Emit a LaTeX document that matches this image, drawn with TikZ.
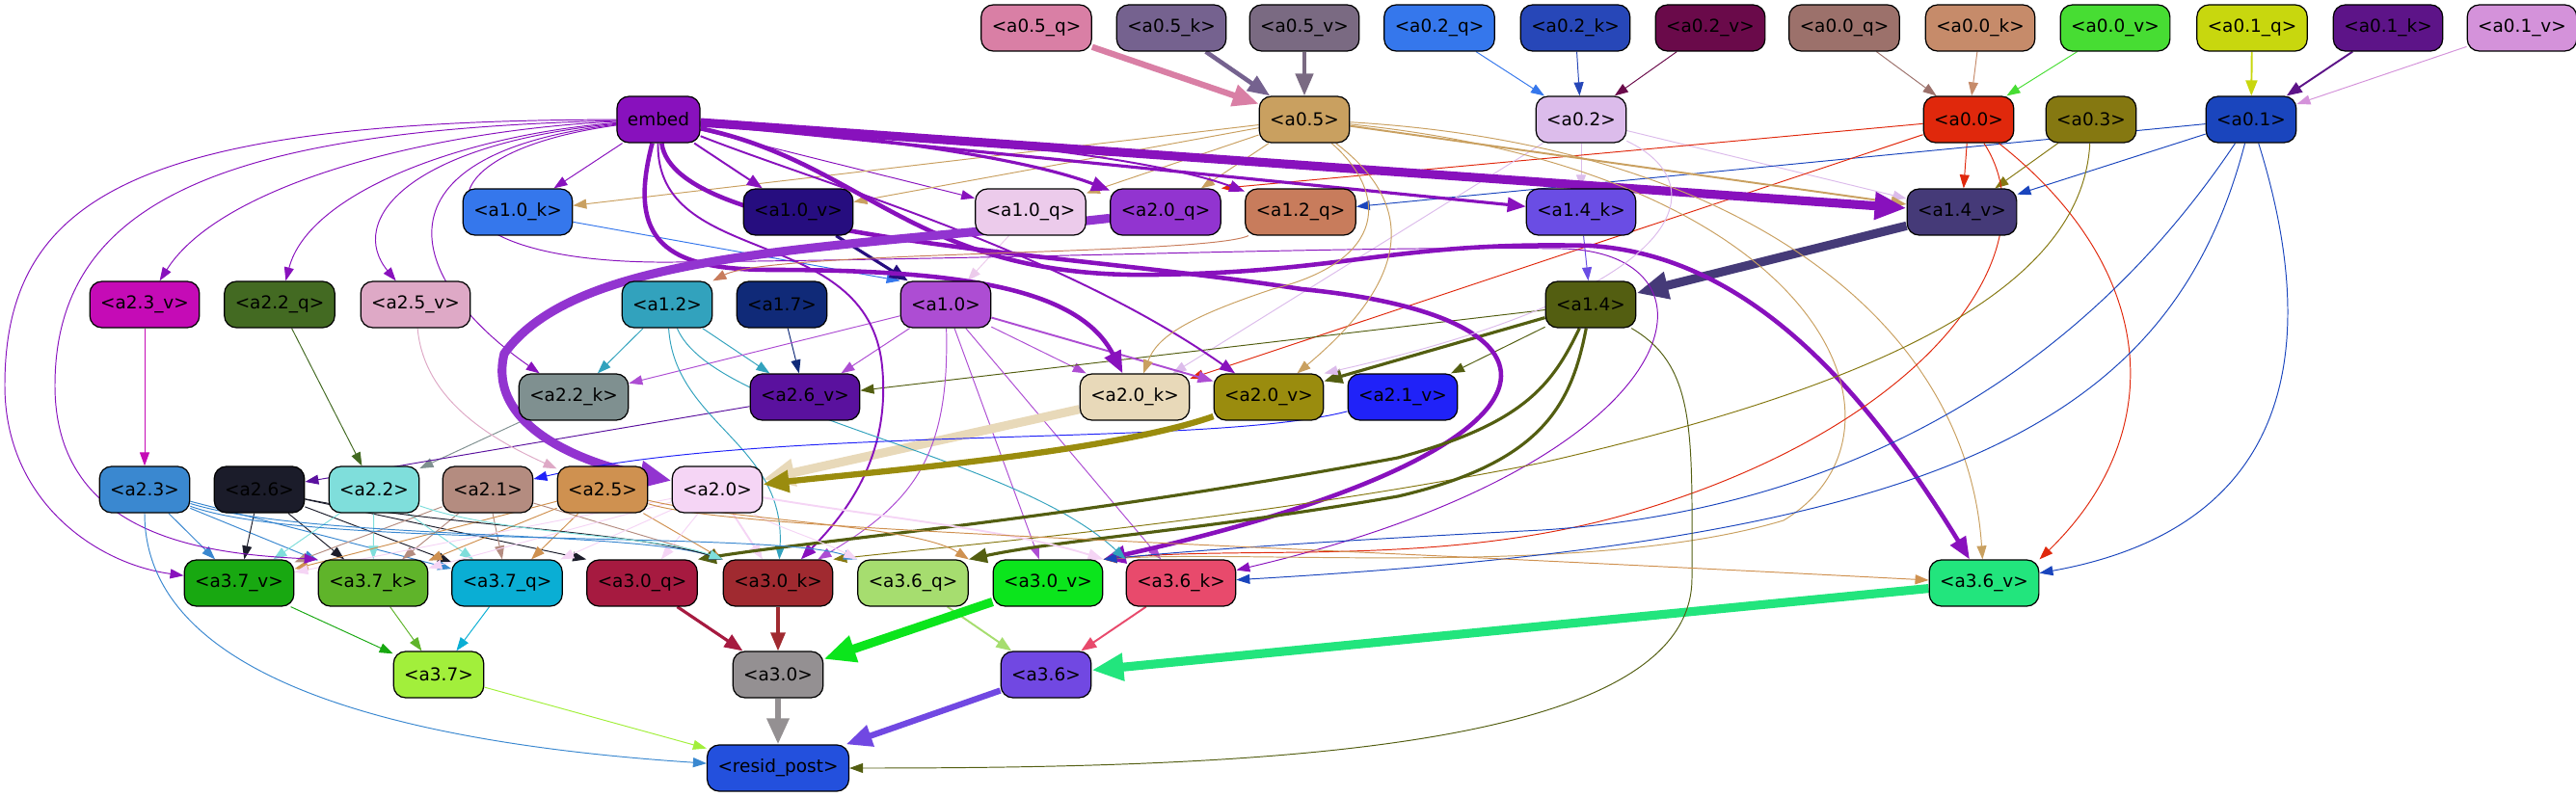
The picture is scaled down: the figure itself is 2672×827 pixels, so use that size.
\documentclass[tikz,border=0pt]{standalone}
\usepackage{fontspec}
\newfontfamily\gvfont{DejaVu Sans}
\usetikzlibrary{arrows.meta, backgrounds}

% node colours
\definecolor{ca05q}{HTML}{D97FA5}\definecolor{ca05k}{HTML}{75628F}\definecolor{ca05v}{HTML}{7A6A82}
\definecolor{ca02q}{HTML}{3577EC}\definecolor{ca02k}{HTML}{2747B8}\definecolor{ca02v}{HTML}{6A0A4A}
\definecolor{ca00q}{HTML}{9C716B}\definecolor{ca00k}{HTML}{C68B6A}\definecolor{ca00v}{HTML}{47DD33}
\definecolor{ca01q}{HTML}{C8D70E}\definecolor{ca01k}{HTML}{5D1488}\definecolor{ca01v}{HTML}{D492DA}
\definecolor{cembed}{HTML}{8811BD}\definecolor{ca05}{HTML}{C9A060}\definecolor{ca02}{HTML}{DCBCEB}
\definecolor{ca00}{HTML}{E0280C}\definecolor{ca03}{HTML}{857811}\definecolor{ca01}{HTML}{1A45BD}
\definecolor{ca10k}{HTML}{3577EC}\definecolor{ca10v}{HTML}{260D7F}\definecolor{ca10q}{HTML}{ECCBEB}
\definecolor{ca20q}{HTML}{9234D0}\definecolor{ca12q}{HTML}{C87C5C}\definecolor{ca14k}{HTML}{6A4DE4}
\definecolor{ca14v}{HTML}{453A78}
\definecolor{ca23v}{HTML}{C50BB6}\definecolor{ca22q}{HTML}{436A22}\definecolor{ca25v}{HTML}{DEA9C6}
\definecolor{ca12}{HTML}{32A2BD}\definecolor{ca17}{HTML}{102A78}\definecolor{ca10}{HTML}{AD4DD3}
\definecolor{ca14}{HTML}{535E11}
\definecolor{ca22k}{HTML}{7F9090}\definecolor{ca26v}{HTML}{5A119E}\definecolor{ca20k}{HTML}{E8D9B9}
\definecolor{ca20v}{HTML}{9A8C0E}\definecolor{ca21v}{HTML}{2022F8}
\definecolor{ca23}{HTML}{3A88D0}\definecolor{ca26}{HTML}{1B1C2A}\definecolor{ca22}{HTML}{7FDEDB}
\definecolor{ca21}{HTML}{B48C80}\definecolor{ca25}{HTML}{CF9150}\definecolor{ca20}{HTML}{F5D5F5}
\definecolor{ca37v}{HTML}{18A811}\definecolor{ca37k}{HTML}{5FB42A}\definecolor{ca37q}{HTML}{0AAED4}
\definecolor{ca30q}{HTML}{A61A40}\definecolor{ca30k}{HTML}{A02A30}\definecolor{ca36q}{HTML}{A6DD6F}
\definecolor{ca30v}{HTML}{0BE51C}\definecolor{ca36k}{HTML}{E84A6C}\definecolor{ca36v}{HTML}{22E57D}
\definecolor{ca37}{HTML}{A2EF3B}\definecolor{ca30}{HTML}{949092}\definecolor{ca36}{HTML}{7148E2}
\definecolor{cresid}{HTML}{2350DD}

\begin{document}
\begin{tikzpicture}[x=0.02cm, y=-0.02cm,
  hd/.style={draw=black, line width=0.7pt, rounded corners=0.25cm,
             minimum height=0.96cm, inner xsep=0.22cm, inner ysep=0pt,
             font=\gvfont\fontsize{10.5}{12}\selectfont},
  w1/.style={line width=0.55pt, -{Triangle[length=0.28cm, width=0.2cm]}},
  w2/.style={line width=1.1pt, -{Triangle[length=0.32cm, width=0.24cm]}},
  w3/.style={line width=1.8pt, -{Triangle[length=0.38cm, width=0.3cm]}},
  w4/.style={line width=2.6pt, -{Triangle[length=0.46cm, width=0.36cm]}},
  w5/.style={line width=3.6pt, -{Triangle[length=0.54cm, width=0.44cm]}},
  w6/.style={line width=5.2pt, -{Triangle[length=0.66cm, width=0.54cm]}}]
\useasboundingbox (0,0) rectangle (2672,827);

% inputs
\node[hd, fill=ca05q] (a05q) at (1075,29) {<a0.5\_q>};
\node[hd, fill=ca05k] (a05k) at (1215,29) {<a0.5\_k>};
\node[hd, fill=ca05v] (a05v) at (1353,29) {<a0.5\_v>};
\node[hd, fill=ca02q] (a02q) at (1493,29) {<a0.2\_q>};
\node[hd, fill=ca02k] (a02k) at (1634,29) {<a0.2\_k>};
\node[hd, fill=ca02v] (a02v) at (1774,29) {<a0.2\_v>};
\node[hd, fill=ca00q] (a00q) at (1913,29) {<a0.0\_q>};
\node[hd, fill=ca00k] (a00k) at (2054,29) {<a0.0\_k>};
\node[hd, fill=ca00v] (a00v) at (2194,29) {<a0.0\_v>};
\node[hd, fill=ca01q] (a01q) at (2336,29) {<a0.1\_q>};
\node[hd, fill=ca01k] (a01k) at (2477,29) {<a0.1\_k>};
\node[hd, fill=ca01v] (a01v) at (2616,29) {<a0.1\_v>};
% layer 0
\node[hd, fill=cembed] (embed) at (683,124) {embed};
\node[hd, fill=ca05] (a05) at (1353,124) {<a0.5>};
\node[hd, fill=ca02] (a02) at (1640,124) {<a0.2>};
\node[hd, fill=ca00] (a00) at (2042,124) {<a0.0>};
\node[hd, fill=ca03] (a03) at (2169,124) {<a0.3>};
\node[hd, fill=ca01] (a01) at (2335,124) {<a0.1>};
% layer 1 inputs
\node[hd, fill=ca10k] (a10k) at (537,220) {<a1.0\_k>};
\node[hd, fill=ca10v] (a10v) at (828,220) {<a1.0\_v>};
\node[hd, fill=ca10q] (a10q) at (1069,220) {<a1.0\_q>};
\node[hd, fill=ca20q] (a20q) at (1209,220) {<a2.0\_q>};
\node[hd, fill=ca12q] (a12q) at (1349,220) {<a1.2\_q>};
\node[hd, fill=ca14k] (a14k) at (1640,220) {<a1.4\_k>};
\node[hd, fill=ca14v] (a14v) at (2035,220) {<a1.4\_v>};
% layer 1
\node[hd, fill=ca23v] (a23v) at (150,316) {<a2.3\_v>};
\node[hd, fill=ca22q] (a22q) at (290,316) {<a2.2\_q>};
\node[hd, fill=ca25v] (a25v) at (431,316) {<a2.5\_v>};
\node[hd, fill=ca12] (a12) at (692,316) {<a1.2>};
\node[hd, fill=ca17] (a17) at (811,316) {<a1.7>};
\node[hd, fill=ca10] (a10) at (981,316) {<a1.0>};
\node[hd, fill=ca14] (a14) at (1650,316) {<a1.4>};
% layer 2 inputs
\node[hd, fill=ca22k] (a22k) at (595,412) {<a2.2\_k>};
\node[hd, fill=ca26v] (a26v) at (835,412) {<a2.6\_v>};
\node[hd, fill=ca20k] (a20k) at (1177,412) {<a2.0\_k>};
\node[hd, fill=ca20v] (a20v) at (1316,412) {<a2.0\_v>};
\node[hd, fill=ca21v] (a21v) at (1455,412) {<a2.1\_v>};
% layer 2
\node[hd, fill=ca23] (a23) at (150,508) {<a2.3>};
\node[hd, fill=ca26] (a26) at (269,508) {<a2.6>};
\node[hd, fill=ca22] (a22) at (388,508) {<a2.2>};
\node[hd, fill=ca21] (a21) at (506,508) {<a2.1>};
\node[hd, fill=ca25] (a25) at (625,508) {<a2.5>};
\node[hd, fill=ca20] (a20) at (744,508) {<a2.0>};
% layer 3 inputs
\node[hd, fill=ca37v] (a37v) at (248,605) {<a3.7\_v>};
\node[hd, fill=ca37k] (a37k) at (387,605) {<a3.7\_k>};
\node[hd, fill=ca37q] (a37q) at (526,605) {<a3.7\_q>};
\node[hd, fill=ca30q] (a30q) at (666,605) {<a3.0\_q>};
\node[hd, fill=ca30k] (a30k) at (807,605) {<a3.0\_k>};
\node[hd, fill=ca36q] (a36q) at (947,605) {<a3.6\_q>};
\node[hd, fill=ca30v] (a30v) at (1087,605) {<a3.0\_v>};
\node[hd, fill=ca36k] (a36k) at (1225,605) {<a3.6\_k>};
\node[hd, fill=ca36v] (a36v) at (2058,605) {<a3.6\_v>};
% layer 3
\node[hd, fill=ca37] (a37) at (455,700) {<a3.7>};
\node[hd, fill=ca30] (a30) at (807,700) {<a3.0>};
\node[hd, fill=ca36] (a36) at (1085,700) {<a3.6>};
\node[hd, fill=cresid] (resid) at (807,797) {<resid\_post>};

\begin{scope}[on background layer]
% straight connectors
\foreach \a/\b in {a02q/a02, a02k/a02, a02v/a02, a00q/a00, a00k/a00, a00v/a00, a01v/a01,
    embed/a10k, embed/a10q, a05/a10k, a05/a10v, a05/a10q, a05/a20q, a02/a14k, a02/a14v,
    a00/a14v, a03/a14v, a01/a14v, a01/a12q, a00/a20q.north east, a10k/a10.north west,
    a10q/a10, a14k/a14, a02/a20k, a00/a20k, a12/a22k, a12/a26v, a17/a26v, a10/a22k,
    a10/a26v, a10/a20k, a14/a26v, a14/a21v, a10/a30v, a10/a36k, a22q/a22, a23v/a23,
    a22k/a22, a26v/a26, a23/a37v, a23/a37k, a23/a37q, a26/a37v, a26/a37k, a26/a37q,
    a26/a30q.north west, a22/a37v, a22/a37k, a22/a37q, a21/a37v, a21/a37k, a21/a37q,
    a21/a30k.north west, a25/a37v, a25/a37k, a25/a37q, a25/a30k.north west, a20/a37v,
    a20/a37k, a20/a37q, a20/a30q, a37v/a37, a37k/a37, a37q/a37, a37/resid}
  \draw[w1, color=c\a] (\a) -- (\b);
\foreach \a/\b in {a01q/a01, a01k/a01, embed/a10v, a05/a14v, a10/a20v, a36q/a36, a36k/a36, a20/a30k}
  \draw[w2, color=c\a] (\a) -- (\b);
\foreach \a/\b in {embed/a14k, a10v/a10, a30q/a30, a30k/a30, a14/a20v}
  \draw[w3, color=c\a] (\a) -- (\b);
\foreach \a in {a05k, a05v} \draw[w4, color=c\a] (\a) -- (a05);
\foreach \a/\b in {a05q/a05, a30/resid, a36/resid} \draw[w5, color=c\a] (\a) -- (\b);
\foreach \a/\b in {embed/a14v, a14v/a14, a20k/a20, a30v/a30, a36v/a36}
  \draw[w6, color=c\a] (\a) -- (\b);

% curved connectors from embed
\draw[w1, color=cembed] (embed) .. controls (450,135) and (230,190) .. (a23v);
\draw[w1, color=cembed] (embed) .. controls (480,140) and (320,200) .. (a22q);
\draw[w1, color=cembed] (embed) .. controls (420,150) and (360,230) .. (a25v);
\draw[w1, color=cembed] (embed) .. controls (380,160) and (420,290) .. (a22k);
\draw[w1, color=cembed] (embed) .. controls (150,125) and (5,200) .. (5,400)
  .. controls (5,520) and (100,585) .. (a37v);
\draw[w1, color=cembed] (embed) .. controls (250,135) and (57,200) .. (57,400)
  .. controls (57,560) and (220,575) .. (a37k.north west);
\draw[w3, color=cembed] (embed) .. controls (950,145) and (1080,170) .. (a20q);
\draw[w2, color=cembed] (embed) .. controls (1000,140) and (1200,165) .. (a12q);
\draw[w2, color=cembed] (embed) .. controls (850,190) and (1100,260) .. (a20v);
\draw[w4, color=cembed] (embed) .. controls (650,250) and (690,280) .. (800,280)
  .. controls (1000,280) and (1120,300) .. (a20k);
\draw[w4, color=cembed] (embed) .. controls (700,250) and (1100,260) .. (1350,300)
  .. controls (1660,330) and (1640,470) .. (a30v.north east);
\draw[w4, color=cembed] (embed) .. controls (900,170) and (950,290) .. (1200,285)
  .. controls (1400,282) and (1450,250) .. (1650,255)
  .. controls (1800,265) and (1920,380) .. (a36v);
\draw[w1, color=cembed] (embed) .. controls (420,160) and (430,275) .. (700,272)
  .. controls (1100,268) and (1400,255) .. (1620,258)
  .. controls (1800,262) and (1760,480) .. (a36k);
\draw[w2, color=cembed] (embed) .. controls (680,280) and (900,230) .. (915,380)
  .. controls (925,480) and (870,540) .. (a30k);

% layer 0 heads
\draw[w1, color=ca05] (a05) .. controls (1440,200) and (1440,270) .. (1320,300)
  .. controls (1230,330) and (1200,350) .. (a20k);
\draw[w1, color=ca05] (a05) .. controls (1480,220) and (1450,300) .. (a20v);
\draw[w1, color=ca05] (a05) .. controls (1800,150) and (2040,330) .. (a36v);
\draw[w1, color=ca05] (a05) .. controls (1900,180) and (2000,450) .. (1850,540)
  .. controls (1650,600) and (1300,570) .. (a30v.north east);
\draw[w1, color=ca02] (a02) .. controls (1780,190) and (1760,300) .. (a20v.north east);
\draw[w1, color=ca00] (a00) .. controls (2130,260) and (2000,440) .. (1700,530)
  .. controls (1500,590) and (1300,565) .. (a30v.north east);
\draw[w1, color=ca00] (a00) .. controls (2240,280) and (2250,450) .. (a36v.north east);
\draw[w1, color=ca03] (a03) .. controls (2160,300) and (1950,400) .. (1600,480)
  .. controls (1300,540) and (1000,565) .. (a30k.north east);
\draw[w1, color=ca01] (a01) .. controls (2150,400) and (1900,530) .. (1600,550)
  .. controls (1400,560) and (1250,570) .. (a30v.north east);
\draw[w1, color=ca01] (a01) .. controls (2250,450) and (2000,560) .. (a36k);
\draw[w1, color=ca01] (a01) .. controls (2390,300) and (2420,540) .. (a36v);

% layer 1
\draw[w6, color=ca20q] (a20q) .. controls (850,260) and (600,260) .. (523,367)
  .. controls (505,440) and (600,480) .. (a20);
\draw[w1, color=ca12q] (a12q) .. controls (1250,265) and (800,260) .. (a12);
\draw[w1, color=ca12] (a12) .. controls (700,440) and (815,460) .. (a30k);
\draw[w1, color=ca12] (a12) .. controls (740,430) and (1050,470) .. (a36k.north west);
\draw[w1, color=ca10] (a10) .. controls (985,470) and (950,520) .. (a30k);
\draw[w3, color=ca14] (a14) .. controls (1610,400) and (1580,440) .. (1450,475)
  .. controls (1100,540) and (850,560) .. (a30q.north east);
\draw[w3, color=ca14] (a14) .. controls (1630,420) and (1600,480) .. (1450,515)
  .. controls (1250,550) and (1100,560) .. (a36q.north east);
\draw[w1, color=ca14] (a14) .. controls (1760,380) and (1755,450) .. (1755,600)
  .. controls (1755,780) and (1300,797) .. (resid);

% layer 2
\draw[w1, color=ca25v] (a25v) .. controls (440,420) and (520,460) .. (a25);
\draw[w1, color=ca21v] (a21v) .. controls (1250,465) and (800,440) .. (a21);
\draw[w5, color=ca20v] (a20v) .. controls (1150,470) and (900,490) .. (a20);
\draw[w1, color=ca23] (a23) .. controls (150,700) and (400,770) .. (resid);
\draw[w1, color=ca23] (a23) .. controls (320,560) and (650,550) .. (a30k.north west);
\draw[w1, color=ca23] (a23) .. controls (320,570) and (800,550) .. (a36q.north west);
\draw[w1, color=ca26] (a26) .. controls (450,545) and (650,550) .. (a30k.north west);
\draw[w1, color=ca22] (a22) .. controls (520,555) and (680,555) .. (a30k.north west);
\draw[w2, color=ca20] (a20) .. controls (900,535) and (1050,550) .. (a30v.north east);
\draw[w1, color=ca20] (a20) .. controls (800,545) and (850,560) .. (a36q.north west);
\draw[w1, color=ca25] (a25) .. controls (760,540) and (950,545) .. (a36q.north east);
\draw[w1, color=ca25] (a25) .. controls (760,550) and (1200,560) .. (a36v);
\end{scope}
\end{tikzpicture}
\end{document}
